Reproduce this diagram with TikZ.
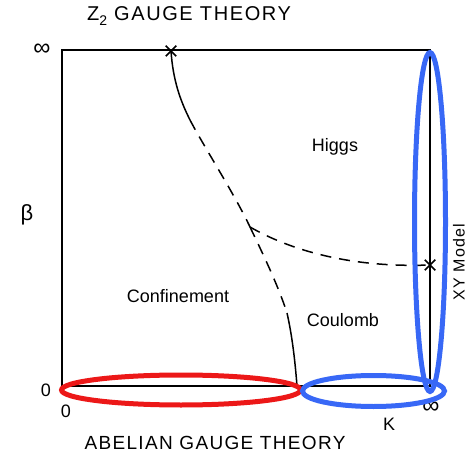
\documentclass[tikz,border=0pt]{standalone}
\usepackage{fontspec}
\setmainfont{Liberation Sans}
\usetikzlibrary{shapes.geometric,shapes.misc}
\definecolor{ringred}{RGB}{236,24,24}
\definecolor{ringblue}{RGB}{56,104,246}
\tikzset{
  frame/.style  ={draw=black, line width=1.2pt},
  solidln/.style={line width=1.5pt},
  dashln/.style ={line width=1.5pt, dash pattern=on 11pt off 8pt},
  xmark/.style  ={cross out, draw, line width=1.5pt, minimum size=9pt, inner sep=0pt},
  caption/.style={font=\fontsize{19}{21}\selectfont\addfontfeature{LetterSpace=7}, inner sep=0pt},
  axlbl/.style  ={font=\fontsize{18}{20}\selectfont, inner sep=0pt},
  phase/.style  ={font=\fontsize{18}{20}\selectfont, inner sep=0pt},
  ring/.style   ={ellipse, draw, line width=5pt, inner sep=0pt},
}
\begin{document}
\begin{tikzpicture}[x=1pt,y=-1pt]
\useasboundingbox (0,0) rectangle (471,454);

% phase diagram frame
\coordinate (bl) at (62,386);
\coordinate (tr) at (430,50);
\draw[frame] (bl) rectangle (tr);

% end points of the transition lines
\node[xmark] (zcross) at (171,51) {};
\node[xmark] (xycross) at (430,265) {};
\coordinate (tri) at (250,227);
\coordinate (cbot) at (297,386);
\coordinate (s1) at (190,120);
\coordinate (s2) at (287,313);

% confinement - higgs
\draw[solidln] (zcross.center) .. controls (173,80) and (180,100) .. (s1);
\draw[dashln] (s1) .. controls (203,145) and (235,195) .. (tri);
% confinement - coulomb
\draw[dashln] (tri) .. controls (262,252) and (278,285) .. (s2);
\draw[solidln] (s2) .. controls (292,335) and (295,360) .. (cbot);
% higgs - coulomb
\draw[dashln] (tri) .. controls (290,250) and (350,268) .. (xycross.center);

% axis labels
\node[axlbl, font=\fontsize{24}{24}\selectfont] (binf) at (42,50) {∞};
\node[axlbl, font=\fontsize{22}{22}\selectfont] (blbl) at (27,215) {β};
\node[axlbl] (bzero) at (46,390) {0};
\node[axlbl] (kzero) at (66,411) {0};
\node[axlbl, font=\fontsize{24}{24}\selectfont] (kinf) at (431,408) {∞};
\node[axlbl] (klbl) at (389,424) {K};

% titles
\node[caption, font=\fontsize{20}{22}\selectfont\addfontfeature{LetterSpace=8}] (ztitle) at (189,16)
   {Z\raisebox{-0.5ex}{\fontsize{14}{14}\selectfont 2} GAUGE THEORY};
\node[caption] (atitle) at (215,443) {ABELIAN GAUGE THEORY};
\node[phase, rotate=90, font=\fontsize{16}{18}\selectfont\addfontfeature{LetterSpace=8}] (xylbl) at (459,262) {XY Model};

% phases
\node[phase] (higgs) at (335,147) {Higgs};
\node[phase] (conf) at (178,296) {Confinement};
\node[phase] (coul) at (343,320) {Coulomb};

% highlighted limits
\node[ring, draw=ringred, minimum width=239pt, minimum height=30pt] (abring) at (181,390) {};
\node[ring, draw=ringblue, minimum width=142pt, minimum height=31pt] (kring) at (373.5,391) {};
\node[ring, draw=ringblue, minimum width=31pt, minimum height=339pt] (xyring) at (430,222) {};
\end{tikzpicture}
\end{document}
